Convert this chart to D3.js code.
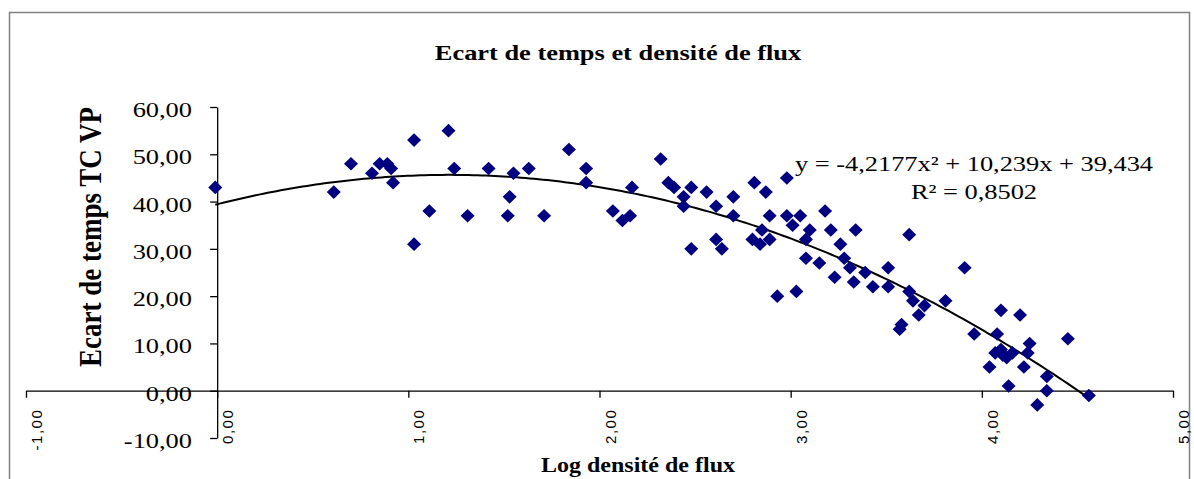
<!DOCTYPE html>
<html>
<head>
<meta charset="utf-8">
<script src="https://cdn.jsdelivr.net/npm/d3@7"></script>
<style>
html,body{margin:0;padding:0;background:#fff;}
svg{display:block;}
</style>
</head>
<body>
<svg id="chart" width="1194" height="479"></svg>
<script>
// ---- data ----
const xValues = [-0.01,0.61,0.70,0.81,0.85,0.89,0.91,0.92,1.03,1.03,1.11,1.21,1.24,1.31,1.42,1.52,1.53,1.55,1.63,1.71,
  1.84,1.93,1.93,2.07,2.12,2.16,2.17,2.32,2.36,2.39,2.44,2.44,2.48,2.48,2.56,2.61,2.61,2.64,2.70,2.70,
  2.80,2.81,2.84,2.85,2.87,2.89,2.89,2.98,2.98,3.01,3.05,3.10,3.08,3.18,3.21,3.34,3.08,3.15,3.26,3.28,
  3.31,3.23,3.33,3.39,3.43,3.51,3.51,3.62,2.93,3.03,3.62,3.64,3.70,3.67,3.58,3.57,3.81,3.91,3.96,4.08,
  4.10,4.20,4.04,4.07,4.13,4.10,4.16,4.24,4.25,4.14,4.22,4.34,4.34,4.29,4.45,4.56,4.11];
const yValues = [43,42,48,46,48,48,47,44,53,31,38,55,47,37,47,37,41,46,47,37,
  51,47,44,38,36,37,43,49,44,43,41,39,30,43,42,39,32,30,41,37,
  32,44,31,34,42,37,32,45,37,35,37,34,32,38,34,34,28,27,31,28,
  26,24,23,25,22,26,22,33,20,21,21,19,18,16,14,13,19,26,12,12,
  17,16,5,8,7,8.7,8,8,10,1,5,3,0,-3,11,-1,7.5];
const xTicks = [-1,0,1,2,3,4,5];
const yTicks = [-10,0,10,20,30,40,50,60];
const trendCoefs = [-4.2177, 10.239, 39.434]; // a x^2 + b x + c
const titleText = "Ecart de temps et densité de flux";
const xTitle = "Log densité de flux";
const yTitle = "Ecart de temps TC VP";
const eqText = "y = -4,2177x² + 10,239x + 39,434";
const r2Text = "R² = 0,8502";

const fmt = v => v.toFixed(2).replace(".", ",");
const SERIF = "'Liberation Serif','Times New Roman',serif";
const SANS = "'Liberation Sans',Arial,sans-serif";
const SX = 1.2;

const svg = d3.select("#chart");

// frame
svg.append("rect").attr("x",9.5).attr("y",12.5).attr("width",1180).attr("height",490)
  .attr("fill","none").attr("stroke","#808080").attr("stroke-width",1.5);

const x = d3.scaleLinear().domain([-1,5]).range([26,1173]);
const y = d3.scaleLinear().domain([-10,60]).range([438,107]);

// x axis at y=0
const xAxisG = svg.append("g").attr("transform",`translate(0,${y(0)})`)
  .call(d3.axisBottom(x).tickValues(xTicks).tickSize(7).tickSizeOuter(0).tickFormat(""));
xAxisG.select(".domain").attr("stroke","#000").attr("stroke-width",1.3);
xAxisG.selectAll(".tick line").attr("stroke","#000").attr("stroke-width",1.3);

// y axis at x=0
const yAxisG = svg.append("g").attr("transform",`translate(${x(0)},0)`)
  .call(d3.axisLeft(y).tickValues(yTicks).tickSize(7).tickSizeOuter(0).tickFormat(""));
yAxisG.select(".domain").attr("stroke","#000").attr("stroke-width",1.3);
yAxisG.selectAll(".tick line").attr("stroke","#000").attr("stroke-width",1.3);

// y tick labels
svg.append("g").selectAll("text").data(yTicks).join("text")
  .attr("transform", d => `translate(192,${y(d)+10}) scale(${SX},1)`)
  .attr("text-anchor","end")
  .style("font-family",SERIF).style("font-size","22px").attr("fill","#000")
  .text(fmt);

// x tick labels (rotated)
svg.append("g").selectAll("text").data(xTicks).join("text")
  .attr("transform", d => `translate(${x(d)+16},${y(0)+18}) rotate(-90)`)
  .attr("text-anchor","end")
  .style("font-family",SANS).style("font-size","15px").style("letter-spacing","1.5px").attr("fill","#000")
  .text(fmt);

// trendline
const xmin = d3.min(xValues), xmax = d3.max(xValues);
const trendPts = d3.range(0, 201).map(i => {
  const xv = xmin + (xmax - xmin) * i / 200;
  return [xv, trendCoefs[0]*xv*xv + trendCoefs[1]*xv + trendCoefs[2]];
});
svg.append("path").datum(trendPts)
  .attr("d", d3.line().x(d => x(d[0])).y(d => y(d[1])))
  .attr("fill","none").attr("stroke","#000").attr("stroke-width",2);

// points (diamonds)
const pts = xValues.map((v,i) => [v, yValues[i]]);
const dw = 7, dh = 6.8;
svg.append("g").selectAll("path").data(pts).join("path")
  .attr("d", d => { const cx = x(d[0]), cy = y(d[1]);
    return `M${cx},${cy-dh}L${cx+dw},${cy}L${cx},${cy+dh}L${cx-dw},${cy}Z`; })
  .attr("fill","#000080");

// title
svg.append("text").attr("transform",`translate(618,60) scale(${SX},1)`)
  .attr("text-anchor","middle").style("font-family",SERIF).style("font-size","22px")
  .style("font-weight","bold").text(titleText);

// x title
svg.append("text").attr("transform",`translate(638,472) scale(${SX},1)`)
  .attr("text-anchor","middle").style("font-family",SERIF).style("font-size","20px")
  .style("font-weight","bold").text(xTitle);

// y title
svg.append("text").attr("transform",`translate(101,237) scale(${SX},1) rotate(-90)`)
  .attr("text-anchor","middle").style("font-family",SERIF).style("font-size","27px")
  .style("font-weight","bold").text(yTitle);

// equation labels
svg.append("text").attr("transform",`translate(974,171) scale(${SX},1)`)
  .attr("text-anchor","middle").style("font-family",SERIF).style("font-size","22px").text(eqText);
svg.append("text").attr("transform",`translate(974,199) scale(${SX},1)`)
  .attr("text-anchor","middle").style("font-family",SERIF).style("font-size","22px").text(r2Text);
</script>
</body>
</html>
